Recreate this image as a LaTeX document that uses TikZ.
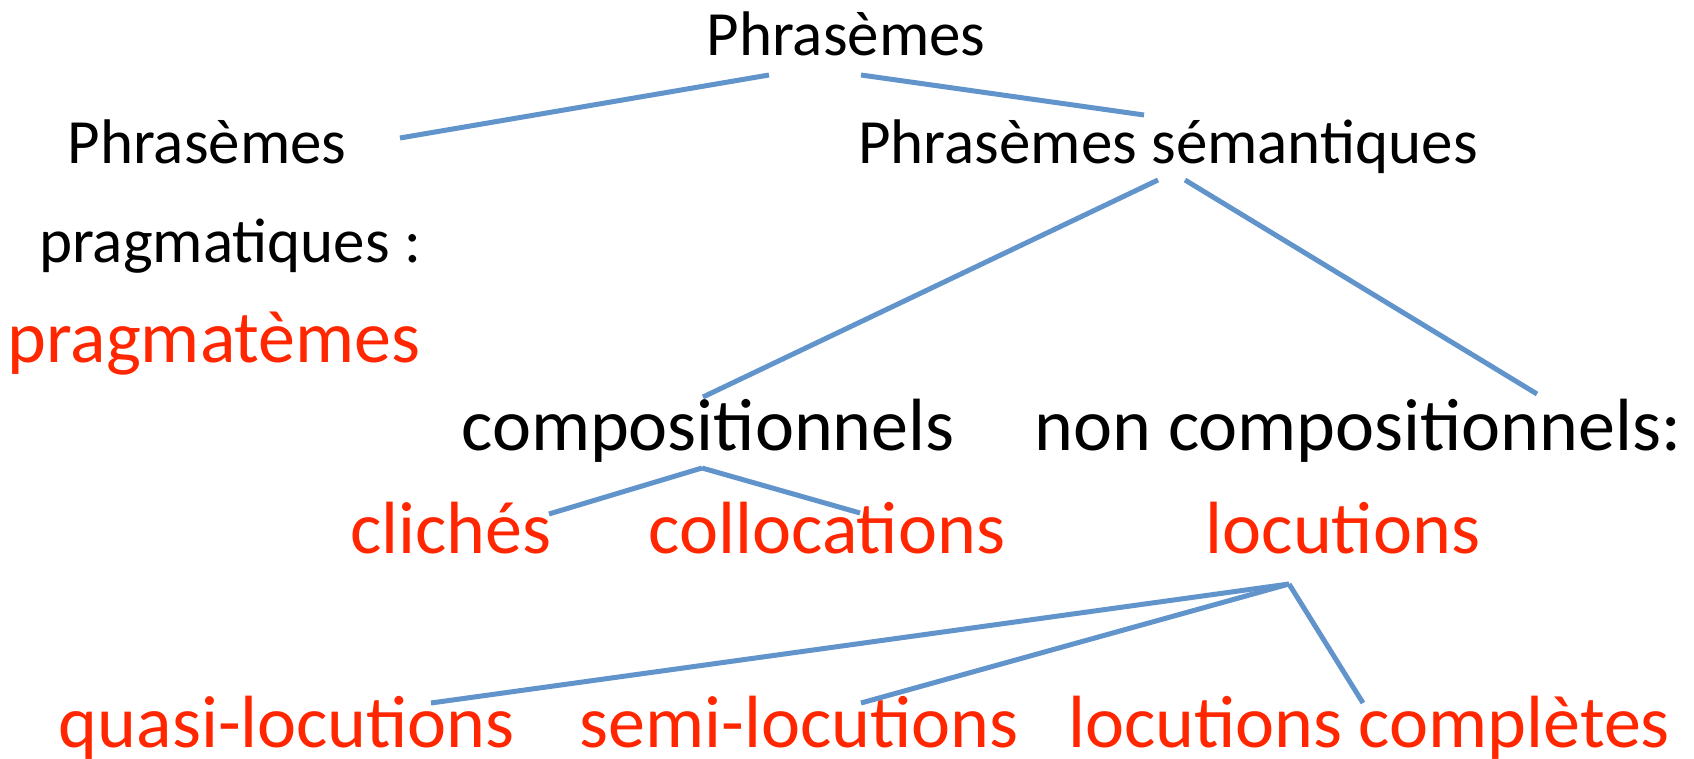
\documentclass[tikz,border=0pt]{standalone}
\usepackage{fontspec}
\setmainfont{Carlito}
\definecolor{lineblue}{RGB}{98,148,204}
\definecolor{redtxt}{RGB}{255,38,0}
\begin{document}
\begin{tikzpicture}[x=1pt,y=-1pt,
  lbl/.style={inner sep=0pt,anchor=base,font=\fontsize{63}{75}\selectfont},
  big/.style={inner sep=0pt,anchor=base,font=\fontsize{74}{88}\selectfont},
  red/.style={text=redtxt},
  link/.style={draw=lineblue,line width=5pt}]
\useasboundingbox (0,0) rectangle (1694,759);
\node[lbl] (root) at (846,56) {Phrasèmes};
\node[lbl] (prag1) at (207,164) {Phrasèmes};
\node[lbl] (prag2) at (230,262) {pragmatiques :};
\node[big,red] (pragm) at (214,362) {pragmatèmes};
\node[lbl] (sem) at (1168,164) {Phrasèmes sémantiques};
\node[big] (comp) at (708,450) {compositionnels};
\node[big] (noncomp) at (1358,450) {non compositionnels:};
\node[big,red] (cliches) at (451,553) {clichés};
\node[big,red] (colloc) at (827,553) {collocations};
\node[big,red] (locs) at (1343,553) {locutions};
\node[big,red] (quasi) at (287,747) {quasi-locutions};
\node[big,red] (semi) at (799,747) {semi-locutions};
\node[big,red] (compl) at (1369,747) {locutions complètes};
\coordinate (rootL) at (769,75);
\coordinate (rootR) at (861,75);
\coordinate (pragT) at (400,138);
\coordinate (semT) at (1144,115);
\coordinate (semL) at (1158,180);
\coordinate (semR) at (1185,180);
\coordinate (compT) at (703,397);
\coordinate (noncompT) at (1537,394);
\coordinate (compB) at (702,468);
\coordinate (clichT) at (549,514);
\coordinate (collT) at (860,513);
\coordinate (locB) at (1289,584);
\coordinate (quasiT) at (431,703);
\coordinate (semiT) at (861,703);
\coordinate (complT) at (1363,703);
\draw[link] (rootL) -- (pragT);
\draw[link] (rootR) -- (semT);
\draw[link] (semL) -- (compT);
\draw[link] (semR) -- (noncompT);
\draw[link] (compB) -- (clichT);
\draw[link] (compB) -- (collT);
\draw[link] (locB) -- (quasiT);
\draw[link] (locB) -- (semiT);
\draw[link] (locB) -- (complT);
\end{tikzpicture}
\end{document}
